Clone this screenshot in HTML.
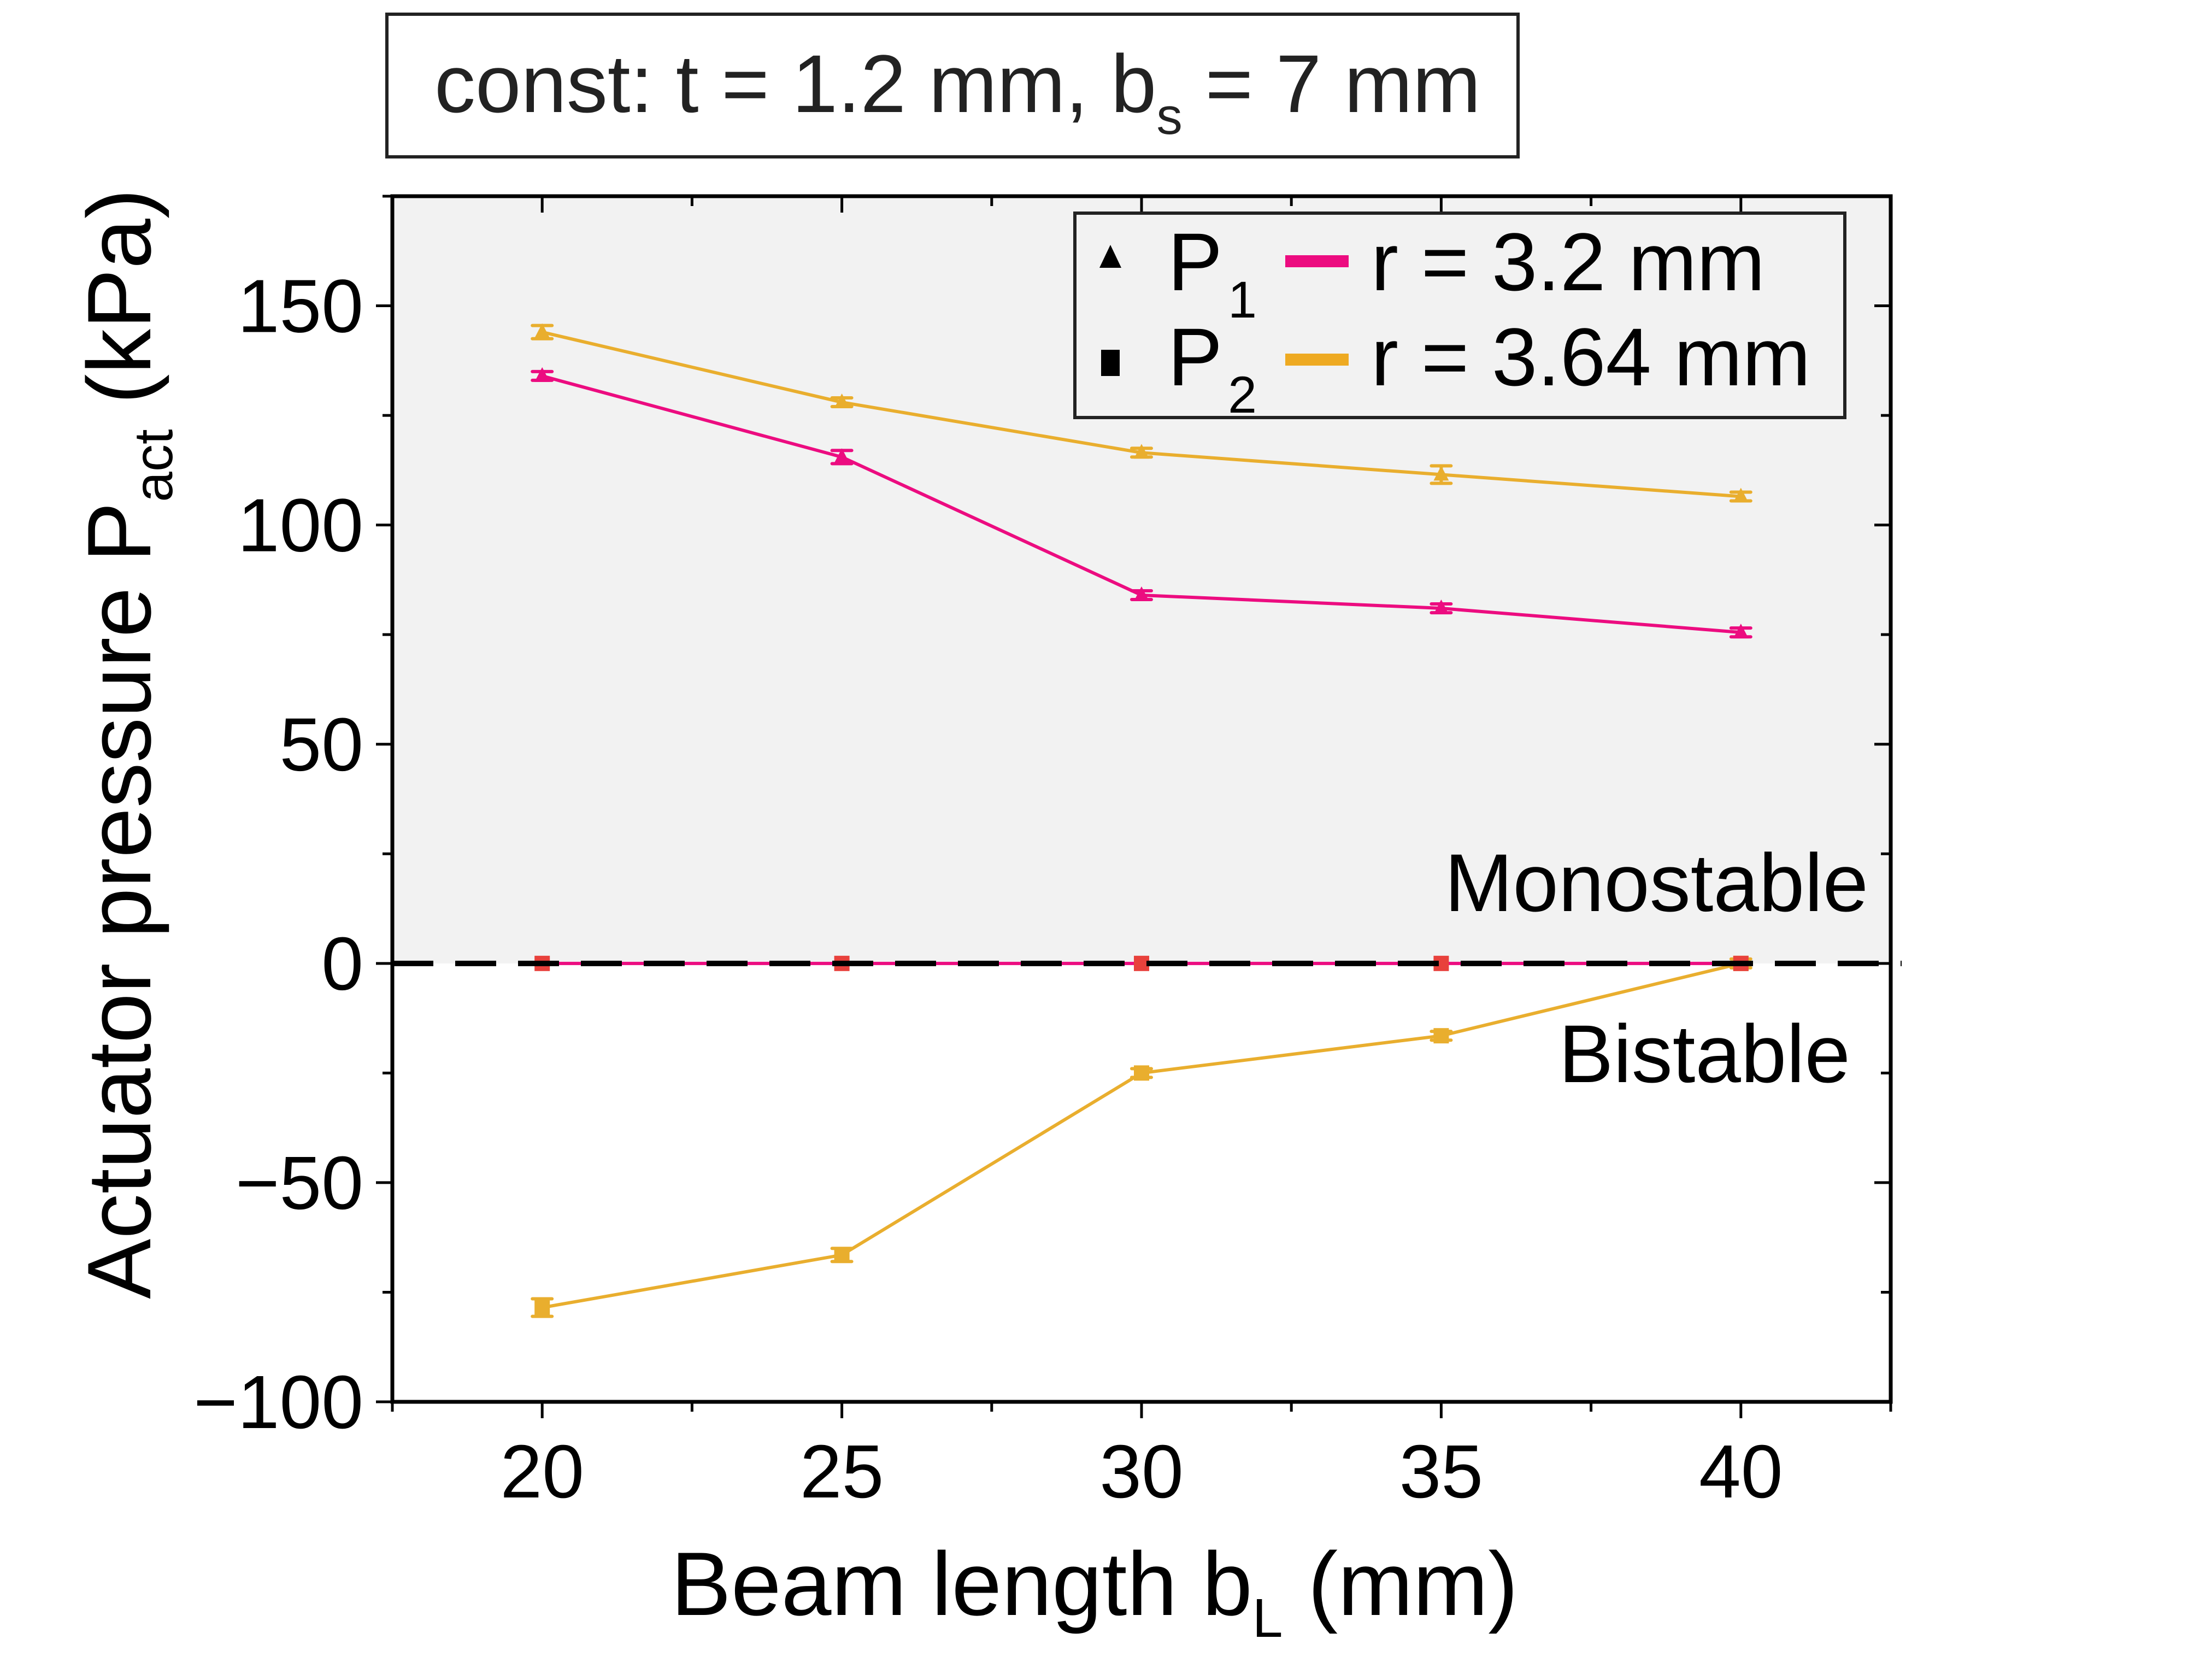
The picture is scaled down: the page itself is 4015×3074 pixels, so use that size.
<!DOCTYPE html>
<html><head><meta charset="utf-8"><style>
html,body{margin:0;padding:0;background:#fff;}
svg{display:block;font-family:"Liberation Sans",sans-serif;}
</style></head><body>
<svg id="chart" width="4015" height="3074" viewBox="0 0 4015 3074">
<g>
<rect x="708" y="26" width="2070" height="261" fill="#fff" stroke="#222" stroke-width="6"/>
<text x="795" y="205" font-size="150" fill="#222">const: t = 1.2 mm, b<tspan font-size="95" dy="40">s</tspan><tspan dy="-40"> = 7 mm</tspan></text>
</g>
<rect id="mono" fill="#f2f2f2"/>
<g id="marks"></g>
<g id="axes"></g>
<text x="3419" y="1667" font-size="150" text-anchor="end">Monostable</text>
<text x="3386" y="1980" font-size="150" text-anchor="end">Bistable</text>
<text x="2003" y="2955" font-size="165" text-anchor="middle">Beam length b<tspan font-size="100" dy="40">L</tspan><tspan dy="-40"> (mm)</tspan></text>
<text transform="translate(275,1361) rotate(-90)" font-size="165" text-anchor="middle">Actuator pressure P<tspan font-size="100" dy="40">act</tspan><tspan dy="-40"> (kPa)</tspan></text>
<g>
<rect x="1967" y="390" width="1409" height="374" fill="#f2f2f2" stroke="#222" stroke-width="6"/>
<polygon points="2012,490 2052,490 2032,448" fill="#000"/>
<text x="2137" y="531" font-size="150">P<tspan font-size="95" dx="10" dy="50">1</tspan></text>
<rect x="2015" y="640" width="34" height="48" fill="#000"/>
<text x="2137" y="705" font-size="150">P<tspan font-size="95" dx="10" dy="50">2</tspan></text>
<rect x="2352" y="467" width="116" height="22" fill="#ec0c80"/>
<text x="2509" y="531" font-size="150">r = 3.2 mm</text>
<rect x="2352" y="647" width="116" height="22" fill="#eeaa22"/>
<text x="2509" y="705" font-size="150">r = 3.64 mm</text>
</g>
</svg>
<script>
const xs = [20, 25, 30, 35, 40];
const p1Pink = [134, 115.5, 84, 81, 75.5];
const p1PinkErr = [1, 1.5, 1, 1, 1];
const p1Orange = [144, 128, 116.5, 111.5, 106.5];
const p1OrangeErr = [1.5, 1, 1, 2, 1];
const p2Pink = [0, 0, 0, 0, 0];
const p2Orange = [-78.5, -66.5, -25, -16.5, 0];
const p2OrangeErr = [2, 1.5, 1, 1, 1];
const xTicks = [20, 25, 30, 35, 40];
const yTicks = [-100, -50, 0, 50, 100, 150];

const L=718,R=3460,T=359,B=2565;
const X=v=>L+(v-17.5)/25*(R-L);
const Y=v=>B-(v+100)/275*(B-T);
const NS='http://www.w3.org/2000/svg';
function mk(tag,attrs,parent){const e=document.createElementNS(NS,tag);for(const k in attrs)e.setAttribute(k,attrs[k]);parent.appendChild(e);return e;}
const mono=document.getElementById('mono');
mono.setAttribute('x',L);mono.setAttribute('y',T);mono.setAttribute('width',R-L);mono.setAttribute('height',Y(0)-T);
const marks=document.getElementById('marks'), axes=document.getElementById('axes');

function series(vals,errs,color,mcolor,shape,name){
  const pl=mk('polyline',{points:vals.map((v,i)=>X(xs[i])+','+Y(v)).join(' '),fill:'none',stroke:color,'stroke-width':6},marks);
  
  
  vals.forEach((v,i)=>{
    const cx=X(xs[i]),cy=Y(v);
    if(errs){const e=errs[i];
      const g=mk('path',{d:`M${cx},${Y(v+e)}V${Y(v-e)}M${cx-18},${Y(v+e)}H${cx+18}M${cx-18},${Y(v-e)}H${cx+18}`,stroke:color,'stroke-width':6,'stroke-linecap':'round',fill:'none'},marks);
      
      }
    let m;
    if(shape==='tri') m=mk('polygon',{points:`${cx-14},${cy+11} ${cx+14},${cy+11} ${cx},${cy-16}`,fill:mcolor},marks);
    else m=mk('rect',{x:cx-14,y:cy-14,width:28,height:28,fill:mcolor},marks);
    
    
  });
}
series(p1Orange,p1OrangeErr,'#e9ae2e','#e9ae2e','tri','p1-r364');
series(p1Pink,p1PinkErr,'#ec0c80','#ec0c80','tri','p1-r32');
series(p2Orange,p2OrangeErr,'#e9ae2e','#e9ae2e','sq','p2-r364');
series(p2Pink,null,'#ec0c80','#e8413c','sq','p2-r32');
const z=mk('line',{x1:L,x2:R+20,y1:Y(0),y2:Y(0),stroke:'#000','stroke-width':10,'stroke-dasharray':'75 40'},axes);


const fr=mk('rect',{x:L,y:T,width:R-L,height:B-T,fill:'none',stroke:'#000','stroke-width':7},axes);


let d='';
for(let v=17.5;v<=42.5;v+=2.5){const x=X(v),maj=(v%5===0);const l=maj?30:18;d+=`M${x},${B}v${l}M${x},${T}v${l}`;}
for(let v=-100;v<=175;v+=25){const y=Y(v),maj=(v%50===0);const l=maj?30:18;d+=`M${L},${y}h${-l}M${R},${y}h${-l}`;}
const tk=mk('path',{d:d,stroke:'#000','stroke-width':5,fill:'none'},axes);


xTicks.forEach(v=>{const t=mk('text',{x:X(v),y:2740,'font-size':138,'text-anchor':'middle'},axes);t.textContent=v;

});
yTicks.forEach(v=>{const t=mk('text',{x:665,y:Y(v)+48,'font-size':138,'text-anchor':'end'},axes);t.textContent=v<0?'\u2212'+(-v):v;

});
</script>
</body></html>
